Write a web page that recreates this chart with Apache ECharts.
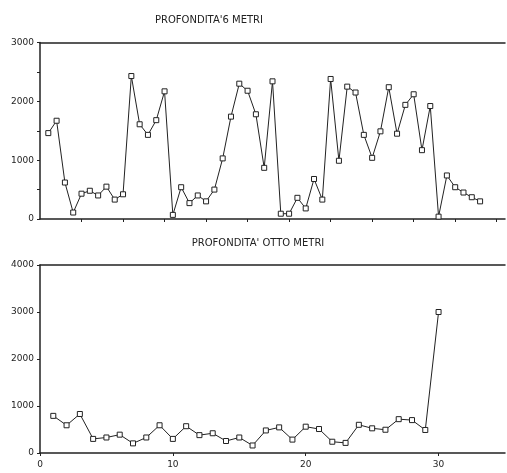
<!DOCTYPE html>
<html>
<head>
<meta charset="utf-8">
<script src="https://cdn.jsdelivr.net/npm/echarts@6/dist/echarts.min.js"></script>
<style>
html,body{margin:0;padding:0;background:#fff;}
#chart{width:507px;height:473px;}
</style>
</head>
<body>
<div id="chart"></div>
<script>
// ---- data ----
var title6 = "PROFONDITA'6 METRI";
var title8 = "PROFONDITA' OTTO METRI";
var days6 = [1,2,3,4,5,6,7,8,9,10,11,12,13,14,15,16,17,18,19,20,21,22,23,24,25,26,27,28,29,30,31,32,33,34,35,36,37,38,39,40,41,42,43,44,45,46,47,48,49,50,51,52,53];
var values6 = [1460,1670,620,110,430,480,400,550,330,420,2430,1610,1430,1680,2170,70,540,270,400,300,500,1030,1740,2300,2180,1780,870,2340,90,90,360,180,680,330,2380,990,2250,2150,1430,1040,1490,2240,1450,1940,2120,1170,1920,40,740,540,450,370,300];
var days8 = [1,2,3,4,5,6,7,8,9,10,11,12,13,14,15,16,17,18,19,20,21,22,23,24,25,26,27,28,29,30];
var values8 = [790,590,830,300,330,390,205,330,590,300,570,380,420,255,330,160,480,545,285,560,510,240,215,600,525,495,720,700,490,3000];
var yTicks6 = [0,1000,2000,3000];
var yTicks8 = [0,1000,2000,3000,4000];
var xTicks6 = [5,10,15,20,25,30,35,40,45,50,55];
var xLabels8 = [0,10,20,30];

function zip(xs, ys){ return xs.map(function(x,i){ return [x, ys[i]]; }); }
function plain(v){ return String(v); }

var ink = '#222';
var font = 'DejaVu Sans';

var chart = echarts.init(document.getElementById('chart'), null, {renderer:'canvas'});
var option = {
  backgroundColor: '#ffffff',
  animation: false,
  graphic: [
    {type:'text', x:209, y:20, style:{text:title6, fill:ink, font:'10px "DejaVu Sans"', textAlign:'center', textVerticalAlign:'middle'}},
    {type:'text', x:258, y:243, style:{text:title8, fill:ink, font:'10px "DejaVu Sans"', textAlign:'center', textVerticalAlign:'middle'}}
  ],
  grid: [
    {left:40, top:42.5, width:465, height:176.5},
    {left:40, top:265, width:465, height:188}
  ],
  xAxis: [
    {type:'value', gridIndex:0, min:0, max:56, position:'bottom',
     axisLine:{show:true, lineStyle:{color:ink, width:1.5}},
     axisTick:{show:true, length:3, inside:false, customValues:xTicks6, lineStyle:{color:ink}},
     axisLabel:{show:false}, splitLine:{show:false}},
    {type:'value', gridIndex:1, min:0, max:35, position:'bottom',
     axisLine:{show:true, lineStyle:{color:ink, width:1.5}},
     axisTick:{show:true, length:3, customValues:xLabels8, lineStyle:{color:ink}},
     axisLabel:{show:true, customValues:xLabels8, formatter:plain, color:ink, fontFamily:font, fontSize:9, margin:7},
     splitLine:{show:false}},
    {type:'value', gridIndex:0, min:0, max:56, position:'top',
     axisLine:{show:true, lineStyle:{color:ink, width:1.5}},
     axisTick:{show:false}, axisLabel:{show:false}, splitLine:{show:false}},
    {type:'value', gridIndex:1, min:0, max:35, position:'top',
     axisLine:{show:true, lineStyle:{color:ink, width:1.5}},
     axisTick:{show:false}, axisLabel:{show:false}, splitLine:{show:false}}
  ],
  yAxis: [
    {type:'value', gridIndex:0, min:0, max:3000, interval:500,
     axisLine:{show:true, lineStyle:{color:ink, width:1.5}},
     axisTick:{show:true, length:3, lineStyle:{color:ink}},
     axisLabel:{show:true, customValues:yTicks6, formatter:plain, color:ink, fontFamily:font, fontSize:9, margin:6},
     splitLine:{show:false}},
    {type:'value', gridIndex:1, min:0, max:4000, interval:1000,
     axisLine:{show:true, lineStyle:{color:ink, width:1.5}},
     axisTick:{show:true, length:3, lineStyle:{color:ink}},
     axisLabel:{show:true, customValues:yTicks8, formatter:plain, color:ink, fontFamily:font, fontSize:9, margin:6},
     splitLine:{show:false}}
  ],
  series: [
    {type:'line', xAxisIndex:0, yAxisIndex:0, data:zip(days6, values6),
     symbol:'rect', symbolSize:5, showAllSymbol:true,
     lineStyle:{color:ink, width:1},
     itemStyle:{color:'#fff', borderColor:ink, borderWidth:1}},
    {type:'line', xAxisIndex:1, yAxisIndex:1, data:zip(days8, values8),
     symbol:'rect', symbolSize:5, showAllSymbol:true,
     lineStyle:{color:ink, width:1},
     itemStyle:{color:'#fff', borderColor:ink, borderWidth:1}}
  ]
};
chart.setOption(option);
</script>
</body>
</html>
